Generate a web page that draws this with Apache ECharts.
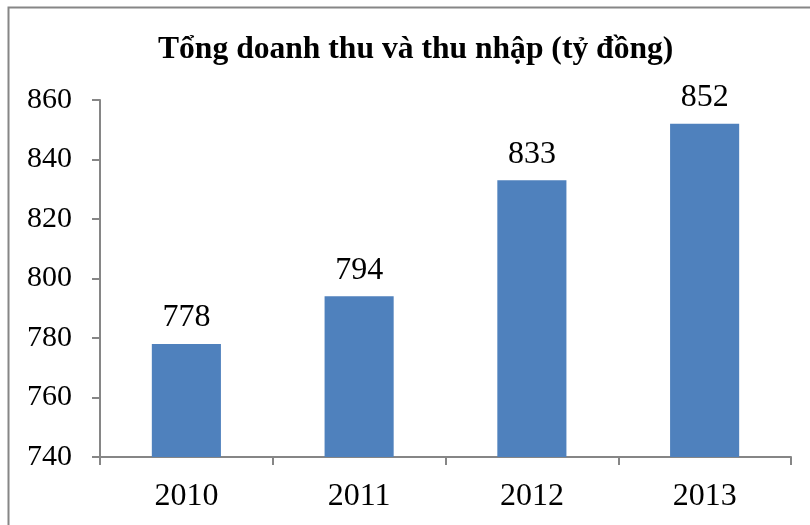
<!DOCTYPE html>
<html>
<head>
<meta charset="utf-8">
<script src="https://cdn.jsdelivr.net/npm/echarts@6/dist/echarts.min.js"></script>
<style>
  html, body { margin: 0; padding: 0; background: #fff; }
  #chart { width: 810px; height: 525px; }
</style>
</head>
<body>
<div id="chart"></div>
<script>
const titleText = 'Tổng doanh thu và thu nhập (tỷ đồng)';
const years = ['2010', '2011', '2012', '2013'];
const revenue = [778, 794, 833, 852];
const yTicks = { min: 740, max: 860, step: 20 };

const serif = '"Liberation Serif", "DejaVu Serif", serif';
const axisGray = '#868686';

const chart = echarts.init(document.getElementById('chart'));
chart.setOption({
  animation: false,
  backgroundColor: '#fff',
  title: {
    text: titleText,
    left: 153,
    top: 29,
    textStyle: { fontFamily: serif, fontWeight: 'bold', fontSize: 31.6, color: '#000' }
  },
  graphic: [{
    type: 'rect',
    shape: { x: 8.5, y: 7.5, width: 900, height: 600 },
    style: { fill: 'none', stroke: axisGray, lineWidth: 2 },
    silent: true
  }],
  grid: { left: 100, right: 19, top: 100, bottom: 68, containLabel: false },
  xAxis: {
    type: 'category',
    data: years,
    axisLine: { lineStyle: { color: axisGray, width: 2 } },
    axisTick: { show: true, length: 8, lineStyle: { color: axisGray, width: 2 } },
    axisLabel: { fontFamily: serif, fontSize: 32, color: '#000', margin: 24 }
  },
  yAxis: {
    type: 'value',
    min: yTicks.min,
    max: yTicks.max,
    interval: yTicks.step,
    axisLine: { show: true, lineStyle: { color: axisGray, width: 2 } },
    axisTick: { show: true, length: 8, lineStyle: { color: axisGray, width: 2 } },
    splitLine: { show: false },
    axisLabel: { fontFamily: serif, fontSize: 30, color: '#000', margin: 28 }
  },
  series: [{
    type: 'bar',
    data: revenue,
    barWidth: '40%',
    itemStyle: { color: '#4F81BD' },
    label: {
      show: true,
      position: 'top',
      distance: 10,
      fontFamily: serif,
      fontSize: 32,
      color: '#000'
    }
  }]
});
</script>
</body>
</html>
